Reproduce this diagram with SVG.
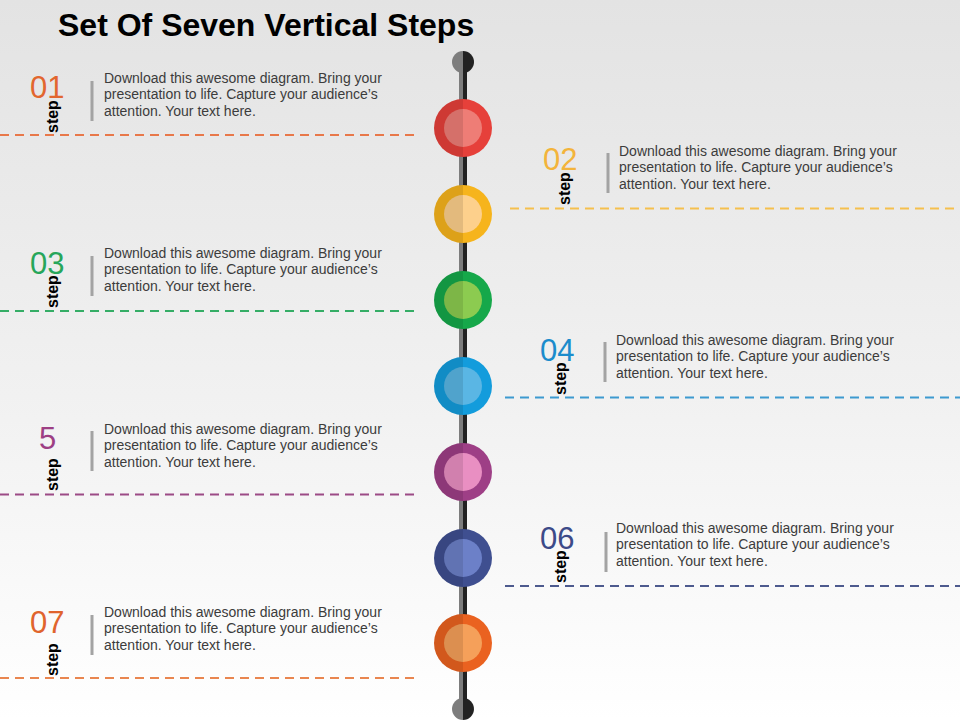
<svg xmlns="http://www.w3.org/2000/svg" width="960" height="720" viewBox="0 0 960 720">
<defs>
<linearGradient id="bg" x1="0" y1="0" x2="0" y2="1">
<stop offset="0" stop-color="#e3e3e3"/>
<stop offset="0.55" stop-color="#f1f1f1"/>
<stop offset="1" stop-color="#ffffff"/>
</linearGradient>
<style>
.title{font-family:"Liberation Sans",Arial,sans-serif;font-weight:bold;font-size:32px;fill:#000}
.num{font-family:"Liberation Sans",Arial,sans-serif;font-size:31px}
.step{font-family:"Liberation Sans",Arial,sans-serif;font-weight:bold;font-size:16px;fill:#000}
.body{font-family:"Liberation Sans",Arial,sans-serif;font-size:14px;fill:#3c3c3c}
.bar{stroke:#a3a3a3;stroke-width:3}
.dash{stroke-width:2;stroke-dasharray:9 6;fill:none}
.shade{fill:#000;fill-opacity:0.1}
</style>
</defs>
<rect width="960" height="720" fill="url(#bg)"/>
<text class="title" x="58" y="36">Set Of Seven Vertical Steps</text>

<g id="connectors">
<line class="dash" x1="0" y1="135" x2="415" y2="135" stroke="#e8784a"/>
<line class="dash" x1="510" y1="208.500" x2="960" y2="208.500" stroke="#f5c04e"/>
<line class="dash" x1="0" y1="311" x2="415" y2="311" stroke="#35ad66"/>
<line class="dash" x1="505" y1="397.500" x2="960" y2="397.500" stroke="#3d9ad0"/>
<line class="dash" x1="0" y1="494.500" x2="415" y2="494.500" stroke="#9c4b86"/>
<line class="dash" x1="505" y1="586" x2="960" y2="586" stroke="#4d5a8e"/>
<line class="dash" x1="0" y1="678" x2="415" y2="678" stroke="#e98650"/>
</g>

<g id="spine">
<rect x="459" y="62" width="4" height="647" fill="#7d7d7d"/>
<rect x="463" y="62" width="4" height="647" fill="#222"/>
<path d="M463,51 A11,11 0 0 0 463,73 Z" fill="#7d7d7d"/>
<path d="M463,51 A11,11 0 0 1 463,73 Z" fill="#222"/>
<path d="M463,698 A11,11 0 0 0 463,720 Z" fill="#7d7d7d"/>
<path d="M463,698 A11,11 0 0 1 463,720 Z" fill="#222"/>
</g>

<g id="circle1">
<circle cx="463" cy="128" r="29" fill="#e6403a"/>
<circle cx="463" cy="128" r="19" fill="#ee7d76"/>
<path class="shade" d="M463,99 A29,29 0 0 0 463,157 Z"/>
</g>
<g id="circle2">
<circle cx="463" cy="214" r="29" fill="#f6b41c"/>
<circle cx="463" cy="214" r="19" fill="#fdd08c"/>
<path class="shade" d="M463,185 A29,29 0 0 0 463,243 Z"/>
</g>
<g id="circle3">
<circle cx="463" cy="300" r="29" fill="#16a84a"/>
<circle cx="463" cy="300" r="19" fill="#8ccb50"/>
<path class="shade" d="M463,271 A29,29 0 0 0 463,329 Z"/>
</g>
<g id="circle4">
<circle cx="463" cy="386" r="29" fill="#139cdc"/>
<circle cx="463" cy="386" r="19" fill="#5ab6e4"/>
<path class="shade" d="M463,357 A29,29 0 0 0 463,415 Z"/>
</g>
<g id="circle5">
<circle cx="463" cy="472" r="29" fill="#9e3f86"/>
<circle cx="463" cy="472" r="19" fill="#e98fc2"/>
<path class="shade" d="M463,443 A29,29 0 0 0 463,501 Z"/>
</g>
<g id="circle6">
<circle cx="463" cy="558" r="29" fill="#3f4f90"/>
<circle cx="463" cy="558" r="19" fill="#6c80c8"/>
<path class="shade" d="M463,529 A29,29 0 0 0 463,587 Z"/>
</g>
<g id="circle7">
<circle cx="463" cy="643" r="29" fill="#ea6220"/>
<circle cx="463" cy="643" r="19" fill="#f5a05a"/>
<path class="shade" d="M463,614 A29,29 0 0 0 463,672 Z"/>
</g>

<g id="step01">
<text class="num" x="30" y="98" fill="#e2662f">01</text>
<text class="step" transform="translate(58,133) rotate(-90)">step</text>
<line class="bar" x1="92" y1="81" x2="92" y2="121"/>
<text class="body" x="104" y="83">Download this awesome diagram. Bring your</text>
<text class="body" x="104" y="99">presentation to life. Capture your audience’s</text>
<text class="body" x="104" y="116">attention. Your text here.</text>
</g>

<g id="step02">
<text class="num" x="543" y="170" fill="#f3b43b">02</text>
<text class="step" transform="translate(570,205) rotate(-90)">step</text>
<line class="bar" x1="608" y1="153" x2="608" y2="193"/>
<text class="body" x="619" y="156">Download this awesome diagram. Bring your</text>
<text class="body" x="619" y="172">presentation to life. Capture your audience’s</text>
<text class="body" x="619" y="189">attention. Your text here.</text>
</g>

<g id="step03">
<text class="num" x="30" y="274" fill="#27a65a">03</text>
<text class="step" transform="translate(58,308) rotate(-90)">step</text>
<line class="bar" x1="92" y1="256" x2="92" y2="296"/>
<text class="body" x="104" y="258">Download this awesome diagram. Bring your</text>
<text class="body" x="104" y="274">presentation to life. Capture your audience’s</text>
<text class="body" x="104" y="291">attention. Your text here.</text>
</g>

<g id="step04">
<text class="num" x="540" y="361" fill="#1c8ccc">04</text>
<text class="step" transform="translate(566,395) rotate(-90)">step</text>
<line class="bar" x1="605" y1="342" x2="605" y2="382"/>
<text class="body" x="616" y="345">Download this awesome diagram. Bring your</text>
<text class="body" x="616" y="361">presentation to life. Capture your audience’s</text>
<text class="body" x="616" y="378">attention. Your text here.</text>
</g>

<g id="step05">
<text class="num" x="39" y="449" fill="#9d3f84">5</text>
<text class="step" transform="translate(58,491) rotate(-90)">step</text>
<line class="bar" x1="92" y1="431" x2="92" y2="471"/>
<text class="body" x="104" y="434">Download this awesome diagram. Bring your</text>
<text class="body" x="104" y="450">presentation to life. Capture your audience’s</text>
<text class="body" x="104" y="467">attention. Your text here.</text>
</g>

<g id="step06">
<text class="num" x="540" y="549" fill="#3c4a88">06</text>
<text class="step" transform="translate(566,583) rotate(-90)">step</text>
<line class="bar" x1="606" y1="532" x2="606" y2="572"/>
<text class="body" x="616" y="533">Download this awesome diagram. Bring your</text>
<text class="body" x="616" y="549">presentation to life. Capture your audience’s</text>
<text class="body" x="616" y="566">attention. Your text here.</text>
</g>

<g id="step07">
<text class="num" x="30" y="633" fill="#e0642e">07</text>
<text class="step" transform="translate(58,676) rotate(-90)">step</text>
<line class="bar" x1="92" y1="615" x2="92" y2="655"/>
<text class="body" x="104" y="617">Download this awesome diagram. Bring your</text>
<text class="body" x="104" y="633">presentation to life. Capture your audience’s</text>
<text class="body" x="104" y="650">attention. Your text here.</text>
</g>
</svg>
